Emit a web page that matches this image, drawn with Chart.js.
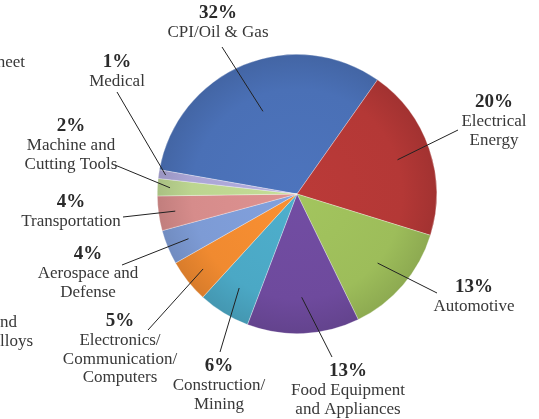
<!DOCTYPE html>
<html>
<head>
<meta charset="utf-8">
<script src="https://cdn.jsdelivr.net/npm/chart.js@4/dist/chart.umd.min.js"></script>
<style>
  html, body { margin: 0; padding: 0; background: #fff; }
  #wrap { width: 539px; height: 419px; }
</style>
</head>
<body>
<div id="wrap"><canvas id="myChart" width="539" height="419"></canvas></div>
<script>
const categories = [
  "CPI/Oil & Gas", "Electrical Energy", "Automotive", "Food Equipment and Appliances",
  "Construction/Mining", "Electronics/Communication/Computers", "Aerospace and Defense",
  "Transportation", "Machine and Cutting Tools", "Medical"
]
const shares = [32, 20, 13, 13, 6, 5, 4, 4, 2, 1]
const labelLines = [
  ["CPI/Oil & Gas"],
  ["Electrical", "Energy"],
  ["Automotive"],
  ["Food Equipment", "and Appliances"],
  ["Construction/", "Mining"],
  ["Electronics/", "Communication/", "Computers"],
  ["Aerospace and", "Defense"],
  ["Transportation"],
  ["Machine and", "Cutting Tools"],
  ["Medical"]
]
const colors = [
  [74, 112, 182], [180, 56, 54], [157, 189, 90], [110, 74, 157], [75, 168, 197],
  [240, 138, 48], [125, 155, 213], [214, 140, 139], [188, 213, 144], [171, 166, 214]
]

// label placement: text centre x, percent line y, leader end point, how deep the leader goes into the slice
const labelPos = [
  { x: 218, y: 13,  lx: 222, ly: 47,  depth: 0.64 },
  { x: 494, y: 102, lx: 458, ly: 130, depth: 0.76 },
  { x: 474, y: 287, lx: 437, ly: 293, depth: 0.76 },
  { x: 348, y: 371, lx: 332, ly: 357, depth: 0.74 },
  { x: 219, y: 366, lx: 220, ly: 352, depth: 0.79 },
  { x: 120, y: 321, lx: 148, ly: 330, depth: 0.86 },
  { x: 88,  y: 254, lx: 122, ly: 265, depth: 0.84 },
  { x: 71,  y: 202, lx: 123, ly: 217, depth: 0.88 },
  { x: 71,  y: 126, lx: 115, ly: 165, depth: 0.91 },
  { x: 117, y: 62,  lx: 117, ly: 92,  depth: 0.95 }
]

// labels of the neighbouring chart that are cut off at the left edge
const cutLabels = [
  { text: "Sheet", x: 25, y: 63 },
  { text: "and", x: 17, y: 323 },
  { text: "Alloys", x: 33, y: 342 }
]

function shade(c, f) {
  return "rgb(" + c.map(v => Math.max(0, Math.min(255, Math.round(v * f)))).join(",") + ")"
}

function sliceFill(context) {
  const chart = context.chart
  const area = chart.chartArea
  const c = colors[context.dataIndex]
  if (!area) return shade(c, 1)
  const cx = (area.left + area.right) / 2
  const cy = (area.top + area.bottom) / 2
  const r = Math.min(area.right - area.left, area.bottom - area.top) / 2
  const g = chart.ctx.createRadialGradient(cx, cy, 0, cx, cy, r)
  g.addColorStop(0, shade(c, 1.04))
  g.addColorStop(0.75, shade(c, 1))
  g.addColorStop(1, shade(c, 0.9))
  return g
}

const labelPlugin = {
  id: 'pieLabels',
  afterDraw(chart) {
    const ctx = chart.ctx
    const arcs = chart.getDatasetMeta(0).data
    ctx.save()
    ctx.strokeStyle = "#222"
    ctx.lineWidth = 1
    arcs.forEach((arc, i) => {
      const p = arc.getProps(['x', 'y', 'startAngle', 'endAngle', 'outerRadius'], true)
      const mid = (p.startAngle + p.endAngle) / 2
      const r = p.outerRadius * labelPos[i].depth
      ctx.beginPath()
      ctx.moveTo(labelPos[i].lx, labelPos[i].ly)
      ctx.lineTo(p.x + Math.cos(mid) * r, p.y + Math.sin(mid) * r)
      ctx.stroke()
    })
    ctx.textAlign = "center"
    ctx.textBaseline = "middle"
    arcs.forEach((arc, i) => {
      const pos = labelPos[i]
      ctx.fillStyle = "#2a2a2a"
      ctx.font = "bold 19px 'Liberation Serif'"
      ctx.fillText(shares[i] + "%", pos.x, pos.y)
      ctx.fillStyle = "#383838"
      ctx.font = "17px 'Liberation Serif'"
      labelLines[i].forEach((line, j) => {
        ctx.fillText(line, pos.x, pos.y + 20 + j * 18.5)
      })
    })
    ctx.textAlign = "right"
    cutLabels.forEach(c => ctx.fillText(c.text, c.x, c.y))
    ctx.restore()
  }
}

const ctx = document.getElementById('myChart').getContext("2d")

const myChart = new Chart(ctx, {
  type: 'pie',
  data: {
    labels: categories,
    datasets: [{
      data: shares,
      backgroundColor: sliceFill,
      borderColor: "rgba(255,255,255,0.5)",
      borderWidth: 0.6
    }]
  },
  options: {
    responsive: false,
    animation: false,
    rotation: 280,
    layout: {
      padding: { top: 54, bottom: 85, left: 157, right: 102 }
    },
    plugins: {
      legend: { display: false },
      tooltip: { enabled: false }
    }
  },
  plugins: [labelPlugin]
});
</script>
</body>
</html>
